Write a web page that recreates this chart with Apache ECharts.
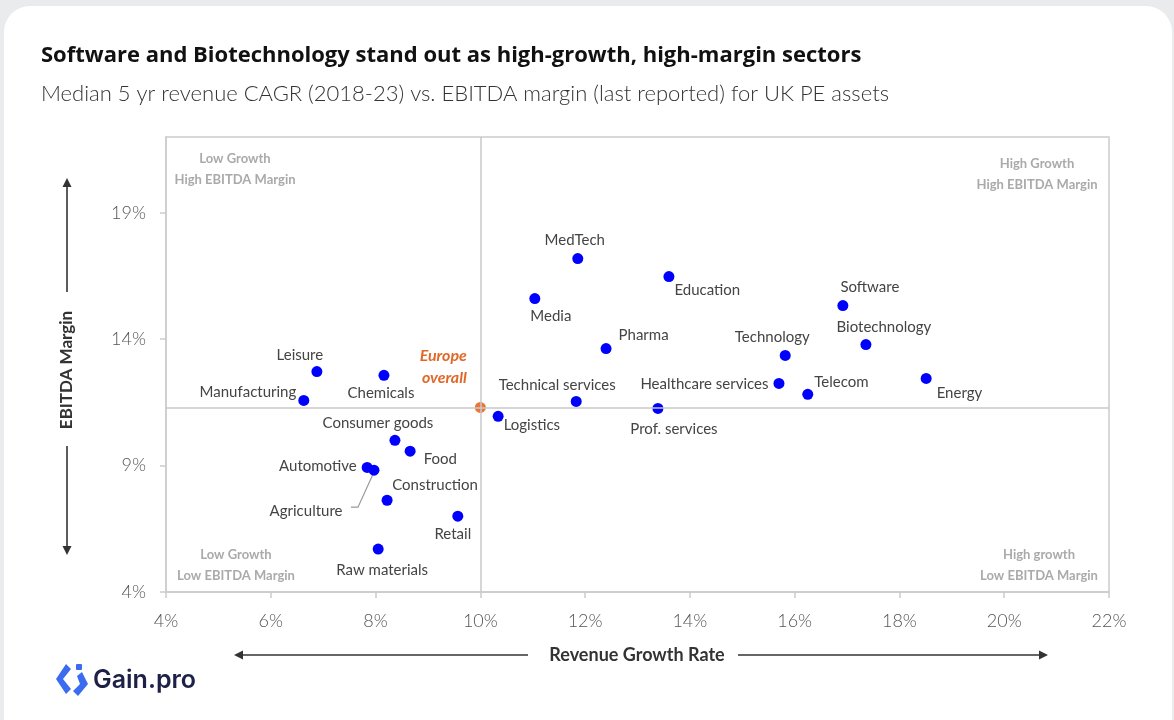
<!DOCTYPE html>
<html>
<head>
<meta charset="utf-8">
<script src="https://cdn.jsdelivr.net/npm/echarts@6/dist/echarts.min.js"></script>
<style>
  html, body { margin: 0; padding: 0; width: 1174px; height: 720px; background: #e9ebed; overflow: hidden; }
  #card { position: absolute; left: 4px; top: 6px; width: 1168px; height: 760px; background: #fff; border-radius: 26px; }
  #chart { position: absolute; left: 0; top: 0; width: 1174px; height: 720px; }
</style>
</head>
<body>
<div id="card"></div>
<div id="chart"></div>
<script>
// Sector medians: revenue CAGR (%) and EBITDA margin (%)
const sectors = [
  'MedTech', 'Education', 'Media', 'Pharma', 'Technical services', 'Logistics',
  'Prof. services', 'Healthcare services', 'Technology', 'Telecom', 'Software',
  'Biotechnology', 'Energy', 'Leisure', 'Manufacturing', 'Chemicals',
  'Consumer goods', 'Food', 'Automotive', 'Agriculture', 'Construction',
  'Retail', 'Raw materials'
];
const revenueGrowth = [
  11.86, 13.60, 11.04, 12.40, 11.83, 10.34,
  13.39, 15.70, 15.82, 16.25, 16.92,
  17.36, 18.51, 6.88, 6.63, 8.16,
  8.37, 8.66, 7.84, 7.97, 8.22,
  9.57, 8.05
];
const ebitdaMargin = [
  17.19, 16.48, 15.61, 13.63, 11.54, 10.95,
  11.26, 12.25, 13.36, 11.82, 15.33,
  13.79, 12.45, 12.72, 11.58, 12.57,
  10.00, 9.57, 8.93, 8.82, 7.63,
  7.00, 5.70
];
// Europe-wide benchmark (also the quadrant split)
const europeGrowth = 10.0;
const europeMargin = 11.3;

const xTicks = { min: 4, max: 22, step: 2 };
const yTicks = { min: 4, max: 22, step: 5 };

// Where each sector's name sits relative to its dot: [position, dx, dy]
const labelPlacement = {
  'MedTech': ['top', -3, 0],
  'Education': ['right', -5, 14],
  'Media': ['bottom', 16, 0],
  'Pharma': ['right', 2, -13],
  'Technical services': ['top', -19, 2],
  'Logistics': ['right', -5, 9],
  'Prof. services': ['bottom', 16, 3],
  'Healthcare services': ['left', 0, 1],
  'Technology': ['top', -13, 0],
  'Telecom': ['right', -4, -12],
  'Software': ['top', 27, 0],
  'Biotechnology': ['top', 18, 1],
  'Energy': ['right', 0, 15],
  'Leisure': ['top', -17, 2],
  'Manufacturing': ['left', 3, -8],
  'Chemicals': ['bottom', -3, 0],
  'Consumer goods': ['top', -17, 1],
  'Food': ['right', 3, 8],
  'Automotive': ['left', 0, -1],
  'Agriculture': ['left', -21, 41],
  'Construction': ['top', 48, 3],
  'Retail': ['bottom', -5, 0],
  'Raw materials': ['bottom', 4, 3]
};

const FONT = 'Lato, "Open Sans", sans-serif';
const TXT = '#444';

const sectorData = sectors.map((name, i) => {
  const p = labelPlacement[name];
  return {
    name: name,
    value: [revenueGrowth[i], ebitdaMargin[i]],
    label: { position: p[0], offset: [p[1], p[2]] }
  };
});

const chart = echarts.init(document.getElementById('chart'));

// Arrow helper for the axis titles
function arrow(x1, y1, x2, y2) {
  const ang = Math.atan2(y2 - y1, x2 - x1);
  const L = 9, W = 4.5;
  const bx = x2 - L * Math.cos(ang), by = y2 - L * Math.sin(ang);
  const nx = -Math.sin(ang) * W, ny = Math.cos(ang) * W;
  return [
    { type: 'line', silent: true, shape: { x1: x1, y1: y1, x2: bx, y2: by }, style: { stroke: '#333', lineWidth: 1.6 } },
    { type: 'polygon', silent: true, shape: { points: [[x2, y2], [bx + nx, by + ny], [bx - nx, by - ny]] }, style: { fill: '#333' } }
  ];
}

function quadrantText(cx, top, l1, l2) {
  return {
    type: 'text', silent: true, x: cx, y: top,
    style: {
      text: l1 + '\n' + l2, align: 'center', verticalAlign: 'top',
      font: 'bold 13px ' + FONT, fill: '#aaaaaa', lineHeight: 21
    }
  };
}

const graphics = [].concat(
  quadrantText(235, 148, 'Low Growth', 'High EBITDA Margin'),
  quadrantText(1037, 153, 'High Growth', 'High EBITDA Margin'),
  quadrantText(236, 544, 'Low Growth', 'Low EBITDA Margin'),
  quadrantText(1039, 544, 'High growth', 'Low EBITDA Margin'),
  // Y axis title with arrows
  {
    type: 'text', silent: true, x: 67, y: 370, rotation: Math.PI / 2,
    style: { text: 'EBITDA Margin', align: 'center', verticalAlign: 'middle', font: 'bold 17px ' + FONT, fill: '#333' }
  },
  arrow(67, 292, 67, 178),
  arrow(67, 446, 67, 555),
  // X axis title with arrows
  {
    type: 'text', silent: true, x: 637, y: 655,
    style: { text: 'Revenue Growth Rate', align: 'center', verticalAlign: 'middle', font: 'bold 18px ' + FONT, fill: '#333' }
  },
  arrow(528, 655, 234, 655),
  arrow(738, 655, 1048, 655),
  // Gain.pro logo
  {
    type: 'group', silent: true,
    children: [
      { type: 'polygon', shape: { points: [[66, 664], [71, 669], [63, 679], [71, 689], [66, 694], [56, 679]] }, style: { fill: '#3b6cf0' } },
      { type: 'rect', shape: { x: 76, y: 664, width: 6, height: 6, r: 1 }, style: { fill: '#3b6cf0' } },
      { type: 'polygon', shape: { points: [[77, 676], [82, 672], [88, 684], [78, 696], [73, 691], [80, 684]] }, style: { fill: '#3b6cf0' } },
      { type: 'text', x: 93, y: 680, style: { text: 'Gain.pro', verticalAlign: 'middle', font: '600 25px Inter, ' + FONT, fill: '#1d2047' } }
    ]
  }
);

chart.setOption({
  animation: false,
  backgroundColor: 'transparent',
  textStyle: { fontFamily: FONT },
  title: [
    {
      text: 'Software and Biotechnology stand out as high-growth, high-margin sectors',
      left: 36, top: 40,
      textStyle: { fontFamily: '"Open Sans", Lato, sans-serif', fontSize: 22, fontWeight: 'bold', color: '#111' }
    },
    {
      text: 'Median 5 yr revenue CAGR (2018-23) vs. EBITDA margin (last reported) for UK PE assets',
      left: 36, top: 78,
      textStyle: { fontFamily: FONT, fontSize: 22, fontWeight: 300, color: '#333' }
    }
  ],
  grid: {
    left: 166, right: 65, top: 137, bottom: 128,
    show: true, borderColor: '#cccccc', borderWidth: 1.5, backgroundColor: 'transparent'
  },
  xAxis: {
    type: 'value', min: xTicks.min, max: xTicks.max, interval: xTicks.step,
    axisLine: { show: true, lineStyle: { color: '#cccccc', width: 1.5 } },
    axisTick: { show: true, length: 6, lineStyle: { color: '#cccccc', width: 1.5 } },
    splitLine: { show: false },
    axisLabel: { margin: 20, fontSize: 18, fontWeight: 300, color: '#555', fontFamily: FONT, formatter: '{value}%' }
  },
  yAxis: {
    type: 'value', min: yTicks.min, max: yTicks.max, interval: yTicks.step,
    axisLine: { show: true, lineStyle: { color: '#cccccc', width: 1.5 } },
    axisTick: { show: true, length: 6, lineStyle: { color: '#cccccc', width: 1.5 } },
    splitLine: { show: false },
    axisLabel: { margin: 20, fontSize: 18, fontWeight: 300, color: '#555', fontFamily: FONT, formatter: '{value}%', showMaxLabel: false }
  },
  series: [
    {
      name: 'Europe overall',
      type: 'scatter',
      symbolSize: 11,
      itemStyle: { color: '#e8773a', opacity: 1 },
      data: [{ name: 'Europe overall', value: [europeGrowth, europeMargin] }],
      label: {
        show: true, position: 'left', offset: [-3, -41],
        formatter: 'Europe\noverall', align: 'right', lineHeight: 22,
        fontFamily: FONT, fontSize: 16, fontWeight: 'bold', fontStyle: 'italic', color: '#e0692a'
      },
      markLine: {
        silent: true, symbol: 'none', z: 10,
        lineStyle: { color: '#c8c8c8', width: 1.5, type: 'solid' },
        label: { show: false },
        data: [{ xAxis: europeGrowth }, { yAxis: europeMargin }]
      },
      z: 3
    },
    {
      name: 'Sectors',
      type: 'scatter',
      symbolSize: 11,
      itemStyle: { color: '#0000ff', opacity: 1 },
      data: sectorData,
      label: { show: true, formatter: '{b}', fontFamily: FONT, fontSize: 15, color: TXT },
      z: 4
    }
  ],
  graphic: graphics
});

// Leader line for the Agriculture label, anchored at its dot
const agIdx = sectors.indexOf('Agriculture');
const ag = chart.convertToPixel({ seriesIndex: 1 }, [revenueGrowth[agIdx], ebitdaMargin[agIdx]]);
chart.setOption({
  graphic: graphics.concat([{
    type: 'polyline', silent: true,
    shape: { points: [[ag[0] - 1, ag[1] + 4], [ag[0] - 16, ag[1] + 37], [ag[0] - 23, ag[1] + 37]] },
    style: { stroke: '#999', lineWidth: 1.2, fill: null }
  }])
});
</script>
</body>
</html>
